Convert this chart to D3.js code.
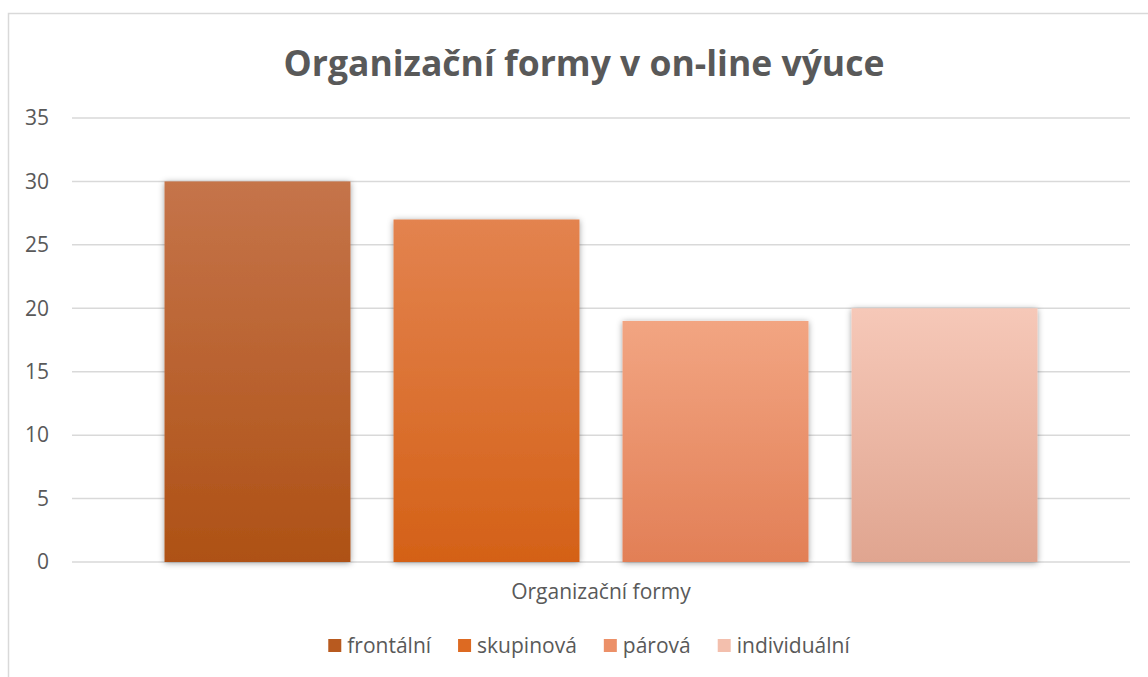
<!DOCTYPE html>
<html lang="cs">
<head>
<meta charset="UTF-8">
<title>Organizační formy v on-line výuce</title>
<script src="https://cdn.jsdelivr.net/npm/d3@7"></script>
<style>
  body { margin: 0; background: #fff; }
  text { font-family: "Open Sans", "Liberation Sans", sans-serif; fill: #595959; }
</style>
</head>
<body>
<script>
// data
const series = ["frontální", "skupinová", "párová", "individuální"];
const values = [30, 27, 19, 20];
const yTicks = [0, 5, 10, 15, 20, 25, 30, 35];
const category = "Organizační formy";
const title = "Organizační formy v on-line výuce";
// gradient stops (top, bottom) per series
const colorsTop = ["#c5744a", "#e3834f", "#f2a582", "#f6c8b8"];
const colorsBottom = ["#ae5115", "#d46117", "#e27f56", "#e0a590"];
const legendColors = ["#b85a1f", "#dd6a22", "#ec9068", "#f3bfad"];

const width = 1148, height = 677;
const plot = {left: 72, right: 1130, top: 118, bottom: 562};

const svg = d3.select("body").append("svg")
  .attr("width", width).attr("height", height);

const defs = svg.append("defs");
series.forEach((s, i) => {
  const g = defs.append("linearGradient").attr("id", "grad" + i)
    .attr("x1", 0).attr("y1", 0).attr("x2", 0).attr("y2", 1);
  g.append("stop").attr("offset", "0%").attr("stop-color", colorsTop[i]);
  g.append("stop").attr("offset", "100%").attr("stop-color", colorsBottom[i]);
});
const shadow = defs.append("filter").attr("id", "shadow")
  .attr("x", "-10%").attr("y", "-10%").attr("width", "120%").attr("height", "120%");
shadow.append("feDropShadow").attr("dx", 0).attr("dy", 1).attr("stdDeviation", 3)
  .attr("flood-color", "#000").attr("flood-opacity", 0.38);

// chart frame
svg.append("path")
  .attr("d", `M8.5,${height} V13.5 H${width}`)
  .attr("fill", "none").attr("stroke", "#d9d9d9").attr("stroke-width", 1.5);

const y = d3.scaleLinear().domain([0, 35]).range([plot.bottom, plot.top]);
const x = d3.scaleBand().domain(series)
  .range([plot.left, plot.right])
  .paddingInner(0.188).paddingOuter(0.404);

// gridlines
svg.append("g").selectAll("line").data(yTicks).join("line")
  .attr("x1", plot.left).attr("x2", plot.right)
  .attr("y1", d => y(d)).attr("y2", d => y(d))
  .attr("stroke", "#d9d9d9").attr("stroke-width", 1.5);

// y axis labels
const yAxis = svg.append("g").attr("transform", `translate(${plot.left - 23},0)`)
  .call(d3.axisLeft(y).tickValues(yTicks).tickSize(0).tickPadding(0));
yAxis.select(".domain").remove();
yAxis.selectAll("text").style("font-size", "21px").style("fill", "#595959")
  .style("font-family", "'Open Sans', sans-serif");

// bars
svg.append("g").selectAll("rect").data(values).join("rect")
  .attr("x", (d, i) => x(series[i]))
  .attr("width", x.bandwidth())
  .attr("y", d => y(d))
  .attr("height", d => y(0) - y(d))
  .attr("fill", (d, i) => `url(#grad${i})`)
  .attr("filter", "url(#shadow)");

// title
svg.append("text").attr("x", 584).attr("y", 76)
  .attr("text-anchor", "middle")
  .style("font-size", "35.5px").style("font-weight", "bold")
  .text(title);

// category label
svg.append("text").attr("x", (plot.left + plot.right) / 2).attr("y", 599)
  .attr("text-anchor", "middle").style("font-size", "21px")
  .text(category);

// legend, laid out from measured text widths and centred
const sw = 13, textGap = 6, itemGap = 27;
const legend = svg.append("g").selectAll("g").data(series).join("g");
legend.append("rect").attr("width", sw).attr("height", sw).attr("y", -1)
  .attr("fill", (d, i) => legendColors[i]);
legend.append("text").attr("x", sw + textGap).attr("y", 13)
  .style("font-size", "21px").text(d => d);
const widths = [];
legend.each(function () { widths.push(d3.select(this).select("text").node().getComputedTextLength()); });
const total = d3.sum(widths, w => sw + textGap + w) + itemGap * (series.length - 1);
let lx = 589 - total / 2;
legend.attr("transform", (d, i) => {
  const t = `translate(${lx},640)`;
  lx += sw + textGap + widths[i] + itemGap;
  return t;
});
</script>
</body>
</html>
